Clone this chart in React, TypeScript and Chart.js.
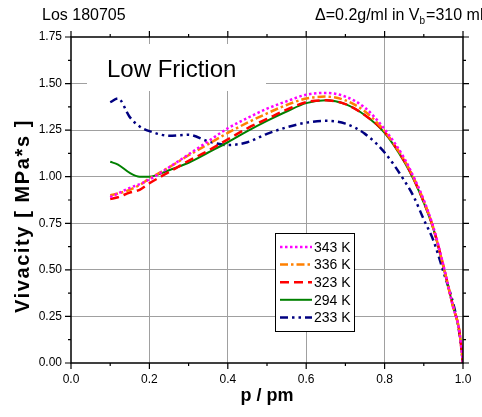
import React, { useEffect, useRef } from "react";
import { Chart, registerables } from "chart.js";
Chart.register(...registerables);

// p / pm positions
const P = [0.10, 0.12, 0.15, 0.175, 0.20, 0.25, 0.30, 0.35, 0.40, 0.45, 0.50, 0.55, 0.60, 0.65, 0.70, 0.75, 0.80, 0.85, 0.875, 0.90, 0.925, 0.95, 0.975, 0.99, 1.00];
const V343 = [0.89, 0.91, 0.94, 0.96, 0.985, 1.05, 1.12, 1.19, 1.26, 1.315, 1.365, 1.405, 1.44, 1.45, 1.43, 1.37, 1.255, 1.10, 0.995, 0.875, 0.725, 0.525, 0.30, 0.18, 0.0];
const V336 = [0.90, 0.91, 0.93, 0.955, 0.99, 1.05, 1.115, 1.175, 1.235, 1.29, 1.34, 1.385, 1.42, 1.43, 1.41, 1.35, 1.245, 1.09, 0.99, 0.87, 0.72, 0.52, 0.30, 0.18, 0.0];
const V323 = [0.88, 0.89, 0.915, 0.93, 0.965, 1.025, 1.085, 1.14, 1.20, 1.26, 1.31, 1.36, 1.40, 1.41, 1.39, 1.33, 1.24, 1.085, 0.985, 0.865, 0.72, 0.52, 0.30, 0.18, 0.0];
const V294 = [1.08, 1.065, 1.02, 1.0, 1.0, 1.035, 1.075, 1.13, 1.185, 1.245, 1.30, 1.35, 1.395, 1.41, 1.39, 1.33, 1.235, 1.08, 0.98, 0.86, 0.715, 0.515, 0.30, 0.18, 0.0];
const V233 = [1.40, 1.42, 1.32, 1.27, 1.245, 1.22, 1.225, 1.19, 1.17, 1.185, 1.23, 1.265, 1.29, 1.30, 1.285, 1.23, 1.13, 0.98, 0.89, 0.77, 0.655, 0.49, 0.32, 0.17, 0.0];

const SERIES_NAMES = ["343 K", "336 K", "323 K", "294 K", "233 K"];
const SERIES_VALUES = [V343, V336, V323, V294, V233];
const SERIES_COLORS = ["#ff00ff", "#ff8000", "#ff0000", "#008000", "#000080"];
const SERIES_DASH = [[2.5, 2.5], [8, 3, 2.5, 3], [9, 5], [], [8, 4, 2.5, 4, 2.5, 4]];
const SERIES_WIDTH = [2.5, 2.5, 2.5, 2, 2.5];

const X_TICKS = [0, 0.2, 0.4, 0.6, 0.8, 1.0];
const Y_TICKS = [0, 0.25, 0.5, 0.75, 1.0, 1.25, 1.5, 1.75];

const FONT = "Arial, 'Liberation Sans', sans-serif";

const decorPlugin = {
  id: "decor",
  beforeDatasetsDraw(chart: any) {
    const { ctx, chartArea } = chart;
    ctx.save();
    // "Low Friction" label with white background
    const bx = chartArea.left + 16;
    const by = chartArea.top + 7;
    ctx.fillStyle = "#ffffff";
    ctx.fillRect(bx, by, 179, 47);
    ctx.fillStyle = "#000";
    ctx.font = `24px ${FONT}`;
    ctx.textBaseline = "alphabetic";
    ctx.textAlign = "left";
    ctx.fillText("Low Friction", bx + 20, by + 33);
    ctx.restore();
  },
  afterDatasetsDraw(chart: any) {
    const { ctx, chartArea } = chart;
    ctx.save();
    // legend
    const lx = chartArea.left + 204;
    const ly = chartArea.top + 196;
    const lw = 79;
    const lh = 98;
    ctx.fillStyle = "#ffffff";
    ctx.fillRect(lx, ly, lw, lh);
    ctx.strokeStyle = "#000";
    ctx.lineWidth = 1;
    ctx.setLineDash([]);
    ctx.strokeRect(lx + 0.5, ly + 0.5, lw, lh);
    chart.data.datasets.forEach((ds: any, i: number) => {
      const y = ly + 14 + i * 17.6;
      ctx.save();
      ctx.strokeStyle = ds.borderColor;
      ctx.lineWidth = ds.borderWidth;
      ctx.setLineDash(ds.borderDash || []);
      ctx.beginPath();
      ctx.moveTo(lx + 5, y);
      ctx.lineTo(lx + 37, y);
      ctx.stroke();
      ctx.restore();
      ctx.fillStyle = "#000";
      ctx.font = `14px ${FONT}`;
      ctx.textBaseline = "middle";
      ctx.textAlign = "left";
      ctx.fillText(ds.label, lx + 39, y + 1);
    });
    ctx.restore();
  },
  afterDraw(chart: any) {
    const { ctx, chartArea, scales } = chart;
    const { left, right, top, bottom } = chartArea;
    ctx.save();
    ctx.strokeStyle = "#000";
    ctx.lineWidth = 1.5;
    ctx.setLineDash([]);
    ctx.strokeRect(left, top, right - left, bottom - top);
    ctx.lineWidth = 1.2;
    ctx.beginPath();
    for (let k = 0; k <= 10; k++) {
      const v = k / 10;
      const px = scales.x.getPixelForValue(v);
      const len = k % 2 === 0 ? 6 : 3;
      ctx.moveTo(px, bottom);
      ctx.lineTo(px, bottom + len);
      ctx.moveTo(px, top);
      ctx.lineTo(px, top - len);
    }
    for (let k = 0; k <= 14; k++) {
      const v = k * 0.125;
      const py = scales.y.getPixelForValue(v);
      const len = k % 2 === 0 ? 6 : 3;
      ctx.moveTo(left, py);
      ctx.lineTo(left - len, py);
      ctx.moveTo(right, py);
      ctx.lineTo(right + len, py);
    }
    ctx.stroke();
    // header texts
    ctx.fillStyle = "#000";
    ctx.textBaseline = "alphabetic";
    ctx.font = `16px ${FONT}`;
    ctx.textAlign = "left";
    ctx.fillText("Los 180705", 42, 20);
    const part1 = "\u0394=0.2g/ml in V";
    const sub = "b";
    const part2 = "=310 ml";
    ctx.font = `16px ${FONT}`;
    const w1n = ctx.measureText(part1).width;
    const w3n = ctx.measureText(part2).width;
    ctx.font = `10px ${FONT}`;
    const w2 = ctx.measureText(sub).width;
    const startX = 315;
    const endX = 480;
    const nChars = part1.length + part2.length;
    const sp = Math.max(0, (endX - startX - (w1n + w2 + w3n)) / nChars);
    (ctx as any).letterSpacing = `${sp}px`;
    ctx.font = `16px ${FONT}`;
    const w1 = ctx.measureText(part1).width;
    ctx.fillText(part1, startX, 20);
    (ctx as any).letterSpacing = "0px";
    ctx.font = `10px ${FONT}`;
    ctx.fillText(sub, startX + w1, 24);
    (ctx as any).letterSpacing = `${sp}px`;
    ctx.font = `16px ${FONT}`;
    ctx.fillText(part2, startX + w1 + w2 + 1, 20);
    (ctx as any).letterSpacing = "0px";
    ctx.restore();
  },
};

export default function App() {
  const ref = useRef<HTMLCanvasElement>(null);
  useEffect(() => {
    if (!ref.current) return;
    const datasets = SERIES_NAMES.map((name, i) => ({
      label: name,
      data: P.map((p, j) => ({ x: p, y: SERIES_VALUES[i][j] })),
      borderColor: SERIES_COLORS[i],
      backgroundColor: SERIES_COLORS[i],
      borderWidth: SERIES_WIDTH[i],
      borderDash: SERIES_DASH[i],
      pointRadius: 0,
      showLine: true,
      fill: false,
      cubicInterpolationMode: "monotone" as const,
    }));
    const chart = new Chart(ref.current, {
      type: "scatter",
      data: { datasets },
      options: {
        animation: false,
        responsive: false,
        maintainAspectRatio: false,
        devicePixelRatio: 1,
        layout: { padding: { top: 37, right: 19, left: 0, bottom: 0 } },
        plugins: {
          legend: { display: false },
          title: { display: false },
          tooltip: { enabled: false },
        },
        scales: {
          x: {
            type: "linear",
            min: 0,
            max: 1,
            afterBuildTicks: (s: any) => {
              s.ticks = X_TICKS.map((v) => ({ value: v }));
            },
            afterFit: (s: any) => {
              s.height = 54;
              s.paddingLeft = 0;
              s.paddingRight = 0;
            },
            ticks: {
              font: { family: FONT, size: 12 },
              color: "#000",
              padding: 9,
              maxRotation: 0,
              callback: (v: any) => Number(v).toFixed(1),
            },
            grid: {
              drawTicks: false,
              lineWidth: 1,
              color: (c: any) => (c.tick && (c.tick.value === 0 || c.tick.value === 1) ? "rgba(0,0,0,0)" : "#a0a0a0"),
            },
            border: { display: false },
            title: {
              display: true,
              text: "p / pm",
              font: { family: FONT, size: 18, weight: "bold" },
              color: "#000",
              padding: { top: 0, bottom: 10 },
            },
          },
          y: {
            type: "linear",
            min: 0,
            max: 1.75,
            afterBuildTicks: (s: any) => {
              s.ticks = Y_TICKS.map((v) => ({ value: v }));
            },
            afterFit: (s: any) => {
              s.width = 71;
              s.paddingTop = 0;
              s.paddingBottom = 0;
              if (!s.__wrappedTitle) {
                const orig = s.drawTitle.bind(s);
                s.drawTitle = () => {
                  const c = s.ctx;
                  c.save();
                  c.letterSpacing = "1.6px";
                  c.translate(0, 16);
                  orig();
                  c.restore();
                };
                s.__wrappedTitle = true;
              }
            },
            ticks: {
              font: { family: FONT, size: 12 },
              color: "#000",
              padding: 9,
              callback: (v: any) => Number(v).toFixed(2),
            },
            grid: {
              drawTicks: false,
              lineWidth: 1,
              color: (c: any) => (c.tick && (c.tick.value === 0 || c.tick.value === 1.75) ? "rgba(0,0,0,0)" : "#a0a0a0"),
            },
            border: { display: false },
            title: {
              display: true,
              text: "Vivacity [ MPa*s ]",
              font: { family: FONT, size: 20, weight: "bold" },
              color: "#000",
              padding: { top: 11, bottom: 0 },
            },
          },
        },
      },
      plugins: [decorPlugin],
    });
    return () => chart.destroy();
  }, []);
  return (
    <div style={{ position: "absolute", left: 0, top: 0, width: 482, height: 417, background: "#fff" }}>
      <canvas ref={ref} width={482} height={417} />
    </div>
  );
}
